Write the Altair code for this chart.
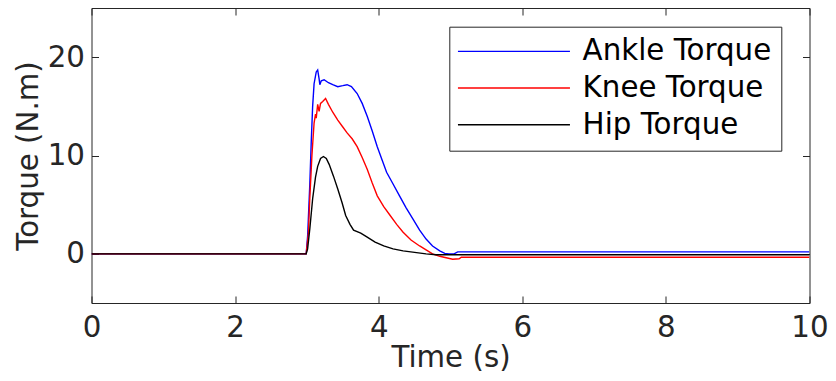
import altair as alt
import pandas as pd

series_names = ["Ankle Torque", "Knee Torque", "Hip Torque"]
series_colors = ["#0000ff", "#ff0000", "#000000"]

ankle_t = [0, 2.99, 3.01, 3.04, 3.06, 3.08, 3.10, 3.13, 3.15, 3.17, 3.18, 3.20, 3.24, 3.30, 3.36,
           3.43, 3.50, 3.56, 3.62, 3.70, 3.77, 3.84, 3.91, 3.98, 4.05, 4.11, 4.20, 4.29, 4.38,
           4.48, 4.57, 4.66, 4.75, 4.85, 4.92, 4.98, 5.05, 5.10, 10]
ankle_v = [0, 0, 1.8, 7.0, 11.3, 15.0, 17.3, 18.5, 18.7, 17.8, 17.2, 17.6, 17.7, 17.4, 17.2,
           17.0, 17.1, 17.2, 17.0, 16.3, 15.3, 14.0, 12.5, 10.9, 9.5, 8.3, 7.1, 5.9, 4.7,
           3.5, 2.4, 1.5, 0.8, 0.3, 0.05, 0.0, 0.0, 0.2, 0.2]

knee_t = [0, 2.99, 3.02, 3.04, 3.07, 3.10, 3.12, 3.13, 3.15, 3.17, 3.19, 3.22, 3.26, 3.30, 3.36,
          3.43, 3.50, 3.56, 3.63, 3.70, 3.77, 3.84, 3.91, 3.98, 4.07, 4.16, 4.25, 4.34, 4.45,
          4.57, 4.66, 4.75, 4.85, 4.94, 5.03, 5.12, 5.15, 10]
knee_v = [0, 0, 2.0, 5.6, 10.0, 13.3, 14.2, 13.8, 15.2, 14.5, 15.3, 15.5, 15.8, 15.2, 14.4,
          13.6, 12.9, 12.3, 11.7, 10.9, 9.8, 8.6, 7.2, 5.9, 4.8, 3.9, 3.0, 2.2, 1.4,
          0.8, 0.4, 0.0, -0.25, -0.4, -0.55, -0.5, -0.35, -0.35]

hip_t = [0, 2.99, 3.01, 3.04, 3.08, 3.12, 3.15, 3.19, 3.23, 3.27, 3.31, 3.37, 3.43, 3.49, 3.54,
         3.60, 3.65, 3.75, 3.84, 3.95, 4.07, 4.20, 4.34, 4.50, 4.66, 4.80, 10]
hip_v = [0, 0, 0.5, 2.5, 5.6, 7.8, 8.9, 9.7, 9.9, 9.7, 9.1, 7.9, 6.6, 5.2, 3.9,
         3.0, 2.4, 2.1, 1.7, 1.2, 0.8, 0.5, 0.3, 0.15, 0.0, -0.1, -0.1]

x_ticks = [0, 2, 4, 6, 8, 10]
y_ticks = [0, 10, 20]

rows = []
for name, ts, vs in zip(series_names, [ankle_t, knee_t, hip_t], [ankle_v, knee_v, hip_v]):
    for t, v in zip(ts, vs):
        rows.append({"Time": t, "Torque": v, "Series": name})
df = pd.DataFrame(rows)

FONT = "DejaVu Sans"
GREY = "#262626"
FS = 29.3

xscale = alt.Scale(domain=[0, 10], nice=False, zero=False)
yscale = alt.Scale(domain=[-5, 25], nice=False, zero=False)

lines = alt.Chart(df).mark_line(strokeWidth=1.4, clip=True).encode(
    x=alt.X("Time:Q", scale=xscale,
            axis=alt.Axis(orient="bottom", values=x_ticks, title="Time (s)", offset=-7,
                          tickSize=7, domain=False, grid=False, labelPadding=10,
                          labelFlush=False, titleY=70, titleBaseline="alphabetic")),
    y=alt.Y("Torque:Q", scale=yscale,
            axis=alt.Axis(orient="left", values=y_ticks, title="Torque (N.m)", offset=-7,
                          tickSize=7, domain=False, grid=False, labelPadding=7,
                          labelFlush=False, titleX=-70.5, titleBaseline="middle")),
    color=alt.Color("Series:N", sort=series_names,
                    scale=alt.Scale(domain=series_names, range=series_colors),
                    legend=alt.Legend(title=None, orient="none", legendX=357.8, legendY=18.7,
                                      fillColor="white", strokeColor=GREY, padding=10,
                                      rowPadding=6.7, labelFontSize=FS, labelFont=FONT,
                                      labelColor="#000000", labelLimit=0,
                                      symbolType="M-1.6,0H9.6",
                                      symbolSize=400, symbolStrokeWidth=1.4,
                                      labelOffset=94, cornerRadius=0)),
)

mirror = alt.Chart(df).mark_line(strokeOpacity=0).encode(
    x=alt.X("Time:Q", scale=xscale,
            axis=alt.Axis(orient="top", values=x_ticks, title="", labels=False, offset=-7,
                          tickSize=7, domain=False, grid=False)),
    y=alt.Y("Torque:Q", scale=yscale,
            axis=alt.Axis(orient="right", values=y_ticks, title="", labels=False, offset=-7,
                          tickSize=7, domain=False, grid=False)),
    detail="Series:N",
)

chart = alt.layer(lines, mirror).resolve_axis(x="independent", y="independent").properties(
    width=718, height=295,
    autosize=alt.AutoSizeParams(type="none"),
    padding={"left": 83.5, "top": 0, "right": 18.5, "bottom": 70},
).configure_view(stroke=GREY, strokeWidth=1).configure_axis(
    labelFont=FONT, labelFontSize=FS, labelColor=GREY, titleFont=FONT, titleFontSize=FS,
    titleColor=GREY, titleFontWeight="normal", tickColor=GREY, tickWidth=1,
)

chart.save("out.html", embed_options={"renderer": "svg", "actions": False})
